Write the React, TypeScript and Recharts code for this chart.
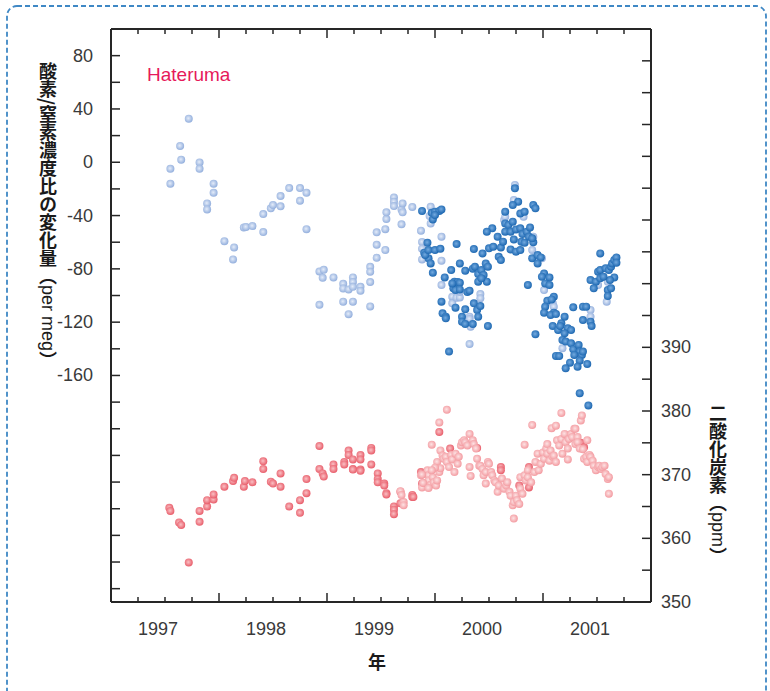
import React from 'react';
import { ScatterChart, Scatter, XAxis, YAxis } from 'recharts';

// Hateruma O2/N2 (per meg) and CO2 (ppm) as [decimal year, value]
const o2Flask: [number, number][] = [
    [1997.55, -4.9], [1997.55, -16.1], [1997.64, 12.2], [1997.65, 1.9], [1997.72, 32.7], [1997.82, -0.1],
    [1997.82, -4.9], [1997.89, -30.9], [1997.89, -35.4], [1997.95, -16.1], [1997.95, -22.9], [1998.05, -59.2],
    [1998.13, -72.9], [1998.14, -63.9], [1998.23, -48.9], [1998.25, -48.6], [1998.31, -47.9], [1998.41, -38.9],
    [1998.41, -52.4], [1998.48, -34.6], [1998.5, -32.1], [1998.57, -25.4], [1998.57, -33.1], [1998.65, -19.4],
    [1998.75, -19.4], [1998.75, -28.9], [1998.81, -22.9], [1998.81, -50.2], [1998.93, -81.9], [1998.97, -80.7],
    [1998.96, -86.7], [1999.06, -86.4], [1998.93, -107], [1999.15, -91.2], [1999.15, -94.7], [1999.2, -95.4],
    [1999.24, -86.4], [1999.24, -89.9], [1999.24, -93.5], [1999.31, -93.5], [1999.31, -96.5], [1999.15, -104.7],
    [1999.24, -104.7], [1999.2, -114], [1999.4, -78.5], [1999.4, -82.2], [1999.4, -89.9], [1999.4, -108.2],
    [1999.46, -71.7], [1999.46, -61.9], [1999.46, -52.6], [1999.54, -65.9], [1999.54, -50.2], [1999.55, -42.6],
    [1999.55, -37.6], [1999.62, -26.4], [1999.62, -29.7], [1999.62, -32.9], [1999.69, -35.4], [1999.7, -30.9],
    [1999.7, -37.6], [1999.69, -46.6], [1999.79, -33.6], [1999.87, -51.4], [1999.96, -33.4], [1999.95, -40.4],
    [1999.96, -45.9], [1999.88, -59.9], [1999.88, -64.9], [1999.88, -72.9], [2000.06, -55.9], [2000.06, -73.9],
    [2000.06, -92.1], [2000.16, -100.9], [2000.16, -105.9], [2000.2, -101.6], [2000.23, -101.4], [2000.23, -97.1],
    [2000.32, -115.9], [2000.32, -117.6], [2000.33, -123.4], [2000.42, -98.9], [2000.42, -102.1], [2000.32, -136.4],
    [2000.64, -43.4], [2000.65, -40.9], [2000.73, -28.4], [2000.74, -17.1], [2000.82, -40.9], [2000.91, -55.9],
    [2000.9, -65.9], [2000.93, -71.4], [2000.99, -72.1], [2001.01, -95.9], [2001.09, -105.9], [2001.1, -108.4],
    [2001.18, -139.6], [2001.44, -110.9], [2001.44, -115.9], [2001.51, -92.1], [2001.59, -104.6], [2001.6, -89.6],
];

const o2Cont: [number, number][] = [
    [1999.88, -36.6], [1999.97, -37.9], [2000.0, -37.1], [2000.04, -36.6], [2000.06, -35.4], [1999.98, -42.9],
    [2000.0, -39.6], [1999.93, -60.4], [1999.9, -67.9], [1999.94, -72.1], [1999.96, -75.9], [1999.91, -69.6],
    [1999.94, -65.9], [2000.0, -65.9], [2000.05, -64.9], [1999.98, -82.9], [2000.09, -86.4], [2000.15, -80.9],
    [2000.2, -61.4], [2000.18, -89.6], [2000.17, -94.6], [2000.21, -89.9], [2000.19, -95.9], [2000.23, -90.4],
    [2000.16, -90.9], [2000.23, -95.4], [2000.23, -75.9], [2000.28, -81.4], [2000.35, -79.9], [2000.3, -97.4],
    [2000.32, -96.4], [2000.06, -104.6], [2000.07, -113.4], [2000.1, -115.9], [2000.1, -117.1], [2000.19, -109.1],
    [2000.25, -115.9], [2000.25, -119.6], [2000.28, -121.4], [2000.28, -110.4], [2000.35, -121.4], [2000.36, -105.9],
    [2000.39, -110.9], [2000.42, -107.9], [2000.4, -115.9], [2000.49, -122.9], [2000.13, -142.1], [2000.37, -78.4],
    [2000.4, -83.9], [2000.43, -80.9], [2000.47, -75.9], [2000.49, -78.4], [2000.45, -84.6], [2000.48, -89.6],
    [2000.4, -89.6], [2000.43, -87.1], [2000.36, -65.1], [2000.44, -68.4], [2000.5, -64.6], [2000.53, -49.6],
    [2000.48, -52.1], [2000.54, -63.4], [2000.58, -55.9], [2000.61, -63.9], [2000.59, -70.9], [2000.61, -73.4],
    [2000.65, -37.1], [2000.65, -45.9], [2000.68, -47.1], [2000.65, -52.1], [2000.72, -44.6], [2000.7, -52.1],
    [2000.63, -59.6], [2000.7, -65.4], [2000.75, -67.1], [2000.79, -65.9], [2000.73, -57.9], [2000.75, -50.4],
    [2000.79, -49.6], [2000.81, -53.9], [2000.85, -52.1], [2000.88, -48.9], [2000.87, -55.9], [2000.8, -59.6],
    [2000.83, -60.4], [2000.91, -60.1], [2000.9, -57.1], [2000.79, -38.4], [2000.83, -37.1], [2000.77, -29.6],
    [2000.72, -32.1], [2000.74, -19.6], [2000.91, -32.1], [2000.93, -34.6], [2000.9, -72.1], [2000.95, -69.6],
    [2000.98, -71.4], [2000.95, -75.9], [2001.01, -83.4], [2000.99, -85.9], [2001.06, -86.4], [2001.02, -90.9],
    [2000.86, -92.1], [2001.06, -92.1], [2001.1, -100.9], [2001.04, -103.9], [2001.08, -102.9], [2001.02, -108.4],
    [2001.01, -112.9], [2001.1, -112.9], [2001.07, -114.6], [2001.12, -113.9], [2001.2, -115.9], [2001.09, -122.9],
    [2001.17, -120.9], [2001.14, -125.9], [2001.16, -122.9], [2001.23, -124.6], [2001.26, -125.9], [2001.2, -128.4],
    [2001.18, -133.4], [2001.21, -134.6], [2001.26, -135.9], [2001.28, -140.4], [2001.33, -137.1], [2001.34, -142.1],
    [2001.36, -144.6], [2001.37, -142.1], [2001.29, -144.6], [2001.12, -145.4], [2001.15, -145.4], [2001.25, -150.4],
    [2001.21, -154.6], [2001.34, -148.9], [2001.32, -153.4], [2001.41, -151.4], [2000.93, -129.1], [2001.28, -108.9],
    [2001.37, -108.4], [2001.4, -108.4], [2001.37, -118.4], [2001.44, -119.6], [2001.45, -122.9], [2001.53, -68.4],
    [2001.51, -82.1], [2001.53, -80.9], [2001.58, -79.6], [2001.61, -80.9], [2001.63, -78.4], [2001.64, -75.9],
    [2001.66, -73.4], [2001.68, -71.4], [2001.68, -75.4], [2001.66, -86.4], [2001.62, -88.4], [2001.6, -95.9],
    [2001.63, -94.6], [2001.6, -100.4], [2001.44, -88.4], [2001.49, -89.6], [2001.47, -94.6], [2001.53, -87.1],
    [2001.56, -85.9], [2001.34, -173.3], [2001.42, -182.5],
];

const co2Cont: [number, number][] = [
    [1997.54, 364.8], [1997.55, 364.3], [1997.63, 362.5], [1997.65, 362.1], [1997.72, 356.2], [1997.82, 364.3],
    [1997.82, 362.6], [1997.89, 365.0], [1997.89, 366.0], [1997.95, 366.1], [1997.95, 366.9], [1998.05, 368.1],
    [1998.13, 369.0], [1998.14, 369.5], [1998.23, 368.1], [1998.24, 369.0], [1998.31, 368.8], [1998.41, 372.1],
    [1998.41, 370.9], [1998.48, 368.9], [1998.5, 368.6], [1998.57, 370.2], [1998.57, 368.1], [1998.65, 365.0],
    [1998.75, 366.0], [1998.75, 364.0], [1998.81, 369.3], [1998.81, 367.1], [1998.93, 374.5], [1998.93, 370.9],
    [1998.96, 370.2], [1998.97, 369.7], [1999.06, 371.6], [1999.06, 370.9], [1999.16, 372.0], [1999.16, 371.6],
    [1999.2, 373.8], [1999.2, 373.1], [1999.24, 372.4], [1999.24, 370.9], [1999.24, 370.8], [1999.31, 373.1],
    [1999.31, 372.4], [1999.31, 370.8], [1999.31, 370.6], [1999.41, 374.2], [1999.41, 373.8], [1999.41, 371.6],
    [1999.47, 370.2], [1999.47, 369.3], [1999.47, 368.8], [1999.53, 368.6], [1999.53, 368.3], [1999.55, 367.1],
    [1999.55, 366.9], [1999.62, 365.0], [1999.62, 364.5], [1999.62, 363.8], [1999.68, 367.3], [1999.68, 365.5],
    [1999.79, 366.8], [1999.79, 366.5], [1999.8, 366.5], [1999.87, 370.4], [1999.88, 368.6], [2000.04, 376.7],
    [2000.14, 374.1], [2000.39, 374.2], [2000.61, 371.2], [2000.61, 370.7], [2000.78, 368.3], [2000.87, 371.2],
    [2000.87, 368.0], [2001.35, 375.0], [2001.38, 374.3],
];

const co2Flask: [number, number][] = [
    [1999.68, 367.4], [1999.71, 365.7], [1999.69, 366.8], [1999.71, 365.2], [1999.87, 369.9], [1999.88, 368.0],
    [1999.9, 368.7], [1999.93, 370.7], [1999.94, 369.9], [1999.94, 369.1], [1999.96, 368.4], [1999.98, 369.6],
    [1999.99, 368.8], [2000.01, 368.3], [2000.02, 369.1], [2000.02, 372.0], [2000.04, 370.4], [2000.05, 371.0],
    [2000.05, 373.8], [2000.07, 373.0], [2000.08, 372.5], [2000.1, 372.8], [2000.11, 372.0], [2000.13, 371.2],
    [2000.15, 373.1], [2000.16, 372.4], [2000.18, 370.4], [2000.19, 373.3], [2000.21, 371.7], [2000.22, 372.8],
    [2000.24, 374.6], [2000.25, 375.1], [2000.27, 375.4], [2000.28, 375.1], [2000.3, 374.6], [2000.32, 376.4],
    [2000.33, 369.8], [2000.32, 371.2], [2000.35, 375.4], [2000.36, 374.8], [2000.38, 374.1], [2000.39, 372.5],
    [2000.41, 371.4], [2000.42, 371.4], [2000.44, 370.9], [2000.45, 369.9], [2000.47, 368.6], [2000.47, 370.4],
    [2000.49, 372.0], [2000.5, 371.7], [2000.52, 370.4], [2000.53, 369.9], [2000.55, 369.1], [2000.56, 368.8],
    [2000.58, 367.3], [2000.59, 368.3], [2000.62, 369.4], [2000.64, 367.8], [2000.66, 368.3], [2000.67, 368.8],
    [2000.69, 367.3], [2000.7, 366.7], [2000.72, 365.2], [2000.73, 365.7], [2000.73, 363.1], [2000.75, 366.7],
    [2000.76, 366.0], [2000.78, 365.4], [2000.79, 367.8], [2000.79, 369.6], [2000.81, 367.0], [2000.83, 369.9],
    [2000.84, 369.1], [2000.86, 370.7], [2000.86, 369.6], [2000.89, 368.8], [2000.9, 377.8], [2000.92, 370.4],
    [2000.93, 372.0], [2000.95, 373.3], [2000.96, 370.7], [2000.98, 371.7], [2001.0, 373.5], [2001.01, 372.5],
    [2001.03, 374.1], [2001.04, 374.8], [2001.04, 373.3], [2001.06, 372.2], [2001.07, 373.8], [2001.08, 377.3],
    [2001.09, 372.8], [2001.1, 373.0], [2001.12, 377.7], [2001.12, 372.0], [2001.13, 375.4], [2001.15, 374.6],
    [2001.17, 375.6], [2001.17, 379.7], [2001.18, 373.3], [2001.2, 376.4], [2001.21, 375.1], [2001.23, 374.1],
    [2001.23, 372.4], [2001.24, 375.6], [2001.26, 376.4], [2001.27, 375.9], [2001.29, 377.2], [2001.3, 374.8],
    [2001.3, 377.2], [2001.32, 375.9], [2001.32, 375.1], [2001.34, 374.1], [2001.35, 378.5], [2001.36, 379.3],
    [2001.37, 374.0], [2001.38, 372.5], [2001.4, 372.8], [2001.41, 375.4], [2001.41, 372.0], [2001.43, 373.1],
    [2001.44, 372.8], [2001.46, 372.2], [2001.47, 371.4], [2001.49, 370.7], [2001.51, 371.2], [2001.52, 371.4],
    [2001.54, 370.9], [2001.55, 371.2], [2001.57, 371.4], [2001.58, 370.1], [2001.6, 369.3], [2001.61, 369.6],
    [2001.61, 367.0], [2000.11, 380.2], [2000.04, 378.2], [1999.97, 374.7], [2000.83, 374.7], [1999.88, 370.0],
    [1999.89, 368.7], [1999.94, 367.9], [2000.0, 371.1], [1999.97, 370.7],
];

const yearLabels = [1997, 1998, 1999, 2000, 2001];
const o2Labels = [80, 40, 0, -40, -80, -120, -160];
const co2Labels = [350, 360, 370, 380, 390];

const AXIS = '#262626';
const TEXT = '#3a3a3a';
const LATIN = '"Liberation Sans", Arial, sans-serif';
const CJK = '"Noto Sans CJK JP", "Noto Sans CJK SC", sans-serif';

// quarter-year tick marks, plus year labels that sit a little left of mid-year
const quarterTicks: number[] = [];
for (let q = 1997.25; q < 2002; q += 0.25) quarterTicks.push(q);
const bottomTicks = [...quarterTicks, ...yearLabels.map((y) => y + 0.435)];

const o2Ticks: number[] = [];
for (let v = -320; v <= 80; v += 20) o2Ticks.push(v);
const co2Ticks: number[] = [];
for (let c = 350; c <= 435; c += 5) co2Ticks.push(c);

const toO2 = (rows: [number, number][]) => rows.map(([t, v]) => ({ t, v }));
const toCo2 = (rows: [number, number][]) => rows.map(([t, c]) => ({ t, c }));

const BottomTick = (props: any) => {
    const { x, y, payload } = props;
    const v = payload.value as number;
    if (Number.isInteger(v * 4)) {
        const major = Number.isInteger(v);
        return <line x1={x} x2={x} y1={y} y2={y - (major ? 9 : 5)} stroke={AXIS} strokeWidth={1.5} />;
    }
    return (
        <text x={x} y={y + 27} textAnchor="middle" dominantBaseline="central" fill={TEXT} fontSize={18} fontFamily={LATIN}>
            {Math.floor(v)}
        </text>
    );
};

const TopTick = (props: any) => {
    const { x, y, payload } = props;
    const major = Number.isInteger(payload.value);
    return <line x1={x} x2={x} y1={y} y2={y + (major ? 9 : 5)} stroke={AXIS} strokeWidth={1.5} />;
};

const LeftTick = (props: any) => {
    const { x, y, payload } = props;
    const v = payload.value as number;
    return (
        <g>
            <line x1={x} x2={x + 9} y1={y} y2={y} stroke={AXIS} strokeWidth={1.5} />
            {o2Labels.includes(v) && (
                <text x={x - 18} y={y} textAnchor="end" dominantBaseline="central" fill={TEXT} fontSize={18} fontFamily={LATIN}>
                    {v}
                </text>
            )}
        </g>
    );
};

const RightTick = (props: any) => {
    const { x, y, payload } = props;
    const v = payload.value as number;
    return (
        <g>
            {v > 350 && <line x1={x} x2={x - 9} y1={y} y2={y} stroke={AXIS} strokeWidth={1.5} />}
            {co2Labels.includes(v) && (
                <text x={x + 10} y={y} textAnchor="start" dominantBaseline="central" fill={TEXT} fontSize={18} fontFamily={LATIN}>
                    {v}
                </text>
            )}
        </g>
    );
};

const dot = (grad: string) => (p: any) => <circle cx={p.cx} cy={p.cy} r={4} fill={`url(#${grad})`} />;

const axisCommon = {
    type: 'number' as const,
    allowDataOverflow: true,
    interval: 0 as const,
    tickLine: false,
    tickSize: 0,
    tickMargin: 0,
    axisLine: { stroke: AXIS, strokeWidth: 2 },
};

const App: React.FC = () => {
    return (
        <div style={{ position: 'absolute', left: 0, top: 0, width: 770, height: 691, background: '#fff', overflow: 'hidden' }}>
            <svg width={770} height={691} style={{ position: 'absolute', left: 0, top: 0 }}>
                <rect x={7} y={6} width={759} height={740} rx={10} fill="none" stroke="#3f88c5" strokeWidth={1.8} strokeDasharray="5 3" />
            </svg>
            <div style={{ position: 'absolute', left: 0, top: 0 }}>
                {/* plot box: x 111..651, y 29..602 */}
                <ScatterChart width={770} height={691} margin={{ top: 19, right: 59, bottom: 49, left: 51 }}>
                    <defs>
                        <radialGradient id="gLB" cx="45%" cy="45%" r="55%">
                            <stop offset="0%" stopColor="#e4ecf9" />
                            <stop offset="100%" stopColor="#93afdd" />
                        </radialGradient>
                        <radialGradient id="gDB" cx="45%" cy="45%" r="55%">
                            <stop offset="0%" stopColor="#74aadf" />
                            <stop offset="100%" stopColor="#1c67b1" />
                        </radialGradient>
                        <radialGradient id="gLR" cx="45%" cy="45%" r="55%">
                            <stop offset="0%" stopColor="#fde3e4" />
                            <stop offset="100%" stopColor="#f39aa0" />
                        </radialGradient>
                        <radialGradient id="gDR" cx="45%" cy="45%" r="55%">
                            <stop offset="0%" stopColor="#fac0c4" />
                            <stop offset="100%" stopColor="#e85d6a" />
                        </radialGradient>
                    </defs>
                    <XAxis {...axisCommon} xAxisId="b" dataKey="t" domain={[1997, 2002]} ticks={bottomTicks} tick={<BottomTick />} height={40} />
                    <XAxis {...axisCommon} xAxisId="top" orientation="top" dataKey="t" domain={[1997, 2002]} ticks={quarterTicks} tick={<TopTick />} height={10} />
                    <YAxis {...axisCommon} yAxisId="o2" dataKey="v" domain={[-330, 100]} ticks={o2Ticks} tick={<LeftTick />} width={60} />
                    <YAxis {...axisCommon} yAxisId="co2" orientation="right" dataKey="c" domain={[350, 440]} ticks={co2Ticks} tick={<RightTick />} width={60} />
                    <Scatter xAxisId="b" yAxisId="co2" data={toCo2(co2Cont)} shape={dot('gDR')} isAnimationActive={false} />
                    <Scatter xAxisId="b" yAxisId="co2" data={toCo2(co2Flask)} shape={dot('gLR')} isAnimationActive={false} />
                    <Scatter xAxisId="b" yAxisId="o2" data={toO2(o2Flask)} shape={dot('gLB')} isAnimationActive={false} />
                    <Scatter xAxisId="b" yAxisId="o2" data={toO2(o2Cont)} shape={dot('gDB')} isAnimationActive={false} />
                </ScatterChart>
            </div>
            <div style={{ position: 'absolute', left: 147, top: 63, fontFamily: LATIN, fontSize: 19, color: '#e6195a', lineHeight: '24px' }}>
                Hateruma
            </div>
            <div
                style={{
                    position: 'absolute',
                    left: 38,
                    top: 62,
                    writingMode: 'vertical-rl',
                    fontFamily: CJK,
                    fontSize: 18,
                    fontWeight: 700,
                    lineHeight: '19px',
                    color: '#1a1a1a',
                }}
            >
                酸素/窒素濃度比の変化量（<span style={{ fontWeight: 400, fontFamily: LATIN }}>per meg</span>）
            </div>
            <div
                style={{
                    position: 'absolute',
                    left: 708,
                    top: 404,
                    writingMode: 'vertical-rl',
                    fontFamily: CJK,
                    fontSize: 18,
                    fontWeight: 700,
                    lineHeight: '19px',
                    color: '#1a1a1a',
                }}
            >
                二酸化炭素（<span style={{ fontWeight: 400, fontFamily: LATIN }}>ppm</span>）
            </div>
            <div style={{ position: 'absolute', left: 368, top: 649, fontFamily: CJK, fontSize: 18, fontWeight: 700, color: '#1a1a1a', lineHeight: '24px' }}>
                年
            </div>
        </div>
    );
};

export default App;
